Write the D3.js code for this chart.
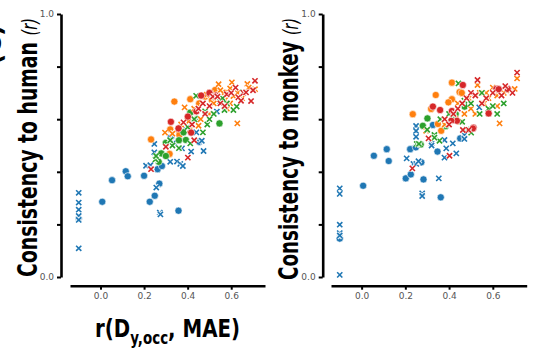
<!DOCTYPE html>
<html>
<head>
<meta charset="utf-8">
<script src="https://cdn.jsdelivr.net/npm/d3@7"></script>
<style>
  body { margin: 0; background: #fff; }
  svg { display: block; }
</style>
</head>
<body>
<div id="canvas"></div>
<script>
// Tick values for both panels.
const X_TICKS = [0.0, 0.2, 0.4, 0.6];
const Y_TICKS = [0.0, 0.2, 0.4, 0.6, 0.8, 1.0];
const Y_LABELED = [0.0, 1.0];

// Left panel: consistency to human, one [x, y] pair per model.
const humanBlueDot = [[-0.1,0.222],[0.008,0.286],[0.053,0.368],[0.116,0.402],[0.125,0.383],[0.200,0.385],[0.226,0.286],[0.249,0.309],[0.262,0.410],[0.270,0.355],[0.282,0.422],[0.358,0.252],[0.323,0.531],[0.454,0.514]];
const humanBlueX = [[-0.1,0.320],[-0.1,0.283],[-0.1,0.256],[-0.1,0.232],[-0.1,0.217],[-0.1,0.109],[0.209,0.423],[0.229,0.425],[0.256,0.340],[0.272,0.245],[0.275,0.238],[0.247,0.506],[0.247,0.474],[0.320,0.438],[0.351,0.439],[0.366,0.430],[0.378,0.422],[0.374,0.489],[0.336,0.511],[0.416,0.477],[0.473,0.479],[0.465,0.518],[0.394,0.559],[0.534,0.629],[0.440,0.550]];
const humanOrangeDot = [[0.232,0.523],[0.317,0.468],[0.320,0.561],[0.339,0.667],[0.359,0.555],[0.362,0.540],[0.412,0.676],[0.453,0.660],[0.480,0.686],[0.511,0.673],[0.526,0.711],[0.570,0.700],[0.400,0.600]];
const humanOrangeX = [[0.296,0.549],[0.386,0.645],[0.503,0.702],[0.488,0.693],[0.542,0.733],[0.603,0.740],[0.674,0.734],[0.709,0.714],[0.595,0.717],[0.572,0.673],[0.595,0.660],[0.628,0.584],[0.404,0.591],[0.610,0.688],[0.680,0.720],[0.550,0.710],[0.520,0.660],[0.460,0.600],[0.430,0.640],[0.500,0.620],[0.580,0.640],[0.370,0.580],[0.410,0.560],[0.630,0.700],[0.650,0.680],[0.330,0.545],[0.450,0.575]];
const humanGreenDot = [[0.267,0.438],[0.279,0.470],[0.300,0.460],[0.300,0.510],[0.381,0.550],[0.392,0.521],[0.412,0.625],[0.546,0.584],[0.440,0.600],[0.360,0.520]];
const humanGreenX = [[0.252,0.447],[0.439,0.689],[0.549,0.667],[0.569,0.635],[0.610,0.635],[0.625,0.648],[0.654,0.702],[0.412,0.508],[0.490,0.580],[0.470,0.550],[0.520,0.620],[0.580,0.660],[0.330,0.500],[0.360,0.490],[0.430,0.600],[0.560,0.680],[0.500,0.600],[0.320,0.520],[0.480,0.630],[0.400,0.570],[0.255,0.460]];
const humanRedDot = [[0.323,0.590],[0.358,0.565],[0.401,0.610],[0.416,0.549],[0.462,0.690],[0.500,0.700],[0.440,0.630],[0.530,0.690]];
const humanRedX = [[0.709,0.746],[0.300,0.495],[0.232,0.410],[0.401,0.454],[0.516,0.686],[0.537,0.686],[0.580,0.695],[0.633,0.683],[0.645,0.670],[0.691,0.669],[0.656,0.700],[0.668,0.702],[0.381,0.588],[0.550,0.660],[0.450,0.640],[0.480,0.620],[0.600,0.700],[0.700,0.710],[0.420,0.580],[0.500,0.650],[0.620,0.720],[0.570,0.650],[0.430,0.520],[0.470,0.660]];

// Right panel: consistency to monkey.
const monkeyBlueDot = [[-0.1,0.146],[0.007,0.347],[0.056,0.461],[0.115,0.486],[0.124,0.441],[0.222,0.486],[0.248,0.493],[0.202,0.375],[0.225,0.390],[0.273,0.436],[0.283,0.371],[0.362,0.303],[0.326,0.578],[0.347,0.477],[0.451,0.527]];
const monkeyBlueX = [[-0.1,0.337],[-0.1,0.316],[-0.1,0.199],[-0.1,0.167],[-0.1,0.158],[-0.1,0.008],[0.277,0.318],[0.277,0.308],[0.353,0.375],[0.206,0.451],[0.237,0.430],[0.250,0.430],[0.249,0.574],[0.249,0.555],[0.249,0.533],[0.320,0.508],[0.320,0.500],[0.379,0.521],[0.387,0.489],[0.417,0.508],[0.379,0.454],[0.433,0.470],[0.470,0.540],[0.470,0.525],[0.538,0.645],[0.260,0.440]];
const monkeyOrangeDot = [[0.234,0.619],[0.339,0.692],[0.413,0.739],[0.448,0.703],[0.458,0.700],[0.413,0.676],[0.397,0.664],[0.318,0.639],[0.349,0.582],[0.364,0.556]];
const monkeyOrangeX = [[0.711,0.755],[0.631,0.584],[0.295,0.556],[0.530,0.730],[0.600,0.720],[0.680,0.710],[0.700,0.715],[0.650,0.700],[0.620,0.690],[0.580,0.680],[0.540,0.700],[0.500,0.640],[0.470,0.620],[0.440,0.660],[0.430,0.600],[0.380,0.580],[0.520,0.620],[0.560,0.660],[0.620,0.650],[0.450,0.590],[0.490,0.680],[0.330,0.530],[0.570,0.700]];
const monkeyGreenDot = [[0.301,0.603],[0.280,0.575],[0.270,0.504],[0.385,0.574],[0.471,0.648],[0.430,0.620]];
const monkeyGreenX = [[0.443,0.736],[0.252,0.506],[0.262,0.506],[0.356,0.518],[0.333,0.540],[0.333,0.530],[0.501,0.549],[0.360,0.600],[0.460,0.590],[0.480,0.560],[0.540,0.620],[0.580,0.640],[0.600,0.650],[0.620,0.620],[0.650,0.660],[0.420,0.610],[0.500,0.660],[0.400,0.620],[0.300,0.560],[0.550,0.700],[0.470,0.670]];
const monkeyRedDot = [[0.326,0.648],[0.359,0.635],[0.463,0.730],[0.413,0.631],[0.436,0.594],[0.410,0.594],[0.512,0.568],[0.581,0.622],[0.616,0.715],[0.668,0.715],[0.627,0.714],[0.509,0.565]];
const monkeyRedX = [[0.711,0.777],[0.530,0.749],[0.657,0.726],[0.232,0.413],[0.402,0.461],[0.306,0.527],[0.489,0.559],[0.463,0.559],[0.380,0.600],[0.400,0.580],[0.440,0.640],[0.480,0.680],[0.500,0.700],[0.520,0.690],[0.550,0.660],[0.600,0.700],[0.640,0.690],[0.690,0.700],[0.420,0.620],[0.460,0.660],[0.570,0.680]];

// Colors (matplotlib tab10).
const BLUE = "#1f77b4", ORANGE = "#ff7f0e", GREEN = "#2ca02c", RED = "#d62728";

const w = 537, h = 350;
const LABEL_FONT = "'Liberation Sans Narrow', 'DejaVu Sans Condensed', 'Liberation Sans', sans-serif";
const TICK_FONT = "'DejaVu Sans', sans-serif";

const svg = d3.select("#canvas")
    .append("svg")
    .attr("width", w)
    .attr("height", h);

// Draws one panel: axes plus all the scatter series.
function drawPanel(opts) {
    const xScale = d3.scaleLinear()
        .domain([-0.14, 0.755])
        .range([opts.x0, opts.x1]);
    const yScale = d3.scaleLinear()
        .domain([0, 1])
        .range([277, 14]);

    const g = svg.append("g");

    // Y axis, offset to the left of the data.
    const yAxis = g.append("g")
        .attr("transform", `translate(${opts.yAxisX},0)`)
        .call(d3.axisLeft(yScale)
            .tickValues(Y_TICKS)
            .tickSize(4)
            .tickSizeOuter(0)
            .tickPadding(3)
            .tickFormat(d => Y_LABELED.includes(d) ? d3.format(".1f")(d) : ""));

    // X axis, offset below the data.
    const xAxis = g.append("g")
        .attr("transform", "translate(0,285.7)")
        .call(d3.axisBottom(xScale)
            .tickValues(X_TICKS)
            .tickSize(4)
            .tickSizeOuter(0)
            .tickPadding(3)
            .tickFormat(d3.format(".1f")));

    [yAxis, xAxis].forEach(ax => {
        ax.select(".domain").attr("stroke", "#000").attr("stroke-width", 2.6);
        ax.selectAll(".tick line").attr("stroke", "#000").attr("stroke-width", 2);
        ax.selectAll(".tick text")
            .attr("fill", "#555")
            .attr("font-family", TICK_FONT)
            .attr("font-size", 9);
    });

    // Scatter series: circles and x markers.
    opts.series.forEach(s => {
        if (s.marker === "o") {
            g.append("g").selectAll("circle")
                .data(s.data)
                .enter()
                .append("circle")
                .attr("cx", d => xScale(d[0]))
                .attr("cy", d => yScale(d[1]))
                .attr("r", 3.6)
                .attr("fill", s.color)
                .attr("stroke", "#fff")
                .attr("stroke-width", 0.6);
        } else {
            const cross = "M-2.6,-2.6L2.6,2.6M-2.6,2.6L2.6,-2.6";
            const marks = g.append("g").selectAll("g")
                .data(s.data)
                .enter()
                .append("g")
                .attr("transform", d => `translate(${xScale(d[0])},${yScale(d[1])})`);
            marks.append("path")
                .attr("d", cross)
                .attr("stroke", "#fff")
                .attr("stroke-opacity", 0.85)
                .attr("stroke-width", 3.8);
            marks.append("path")
                .attr("d", cross)
                .attr("stroke", s.color)
                .attr("stroke-width", 1.6);
        }
    });
}

drawPanel({
    x0: 70, x1: 265, yAxisX: 61,
    series: [
        { color: BLUE, marker: "o", data: humanBlueDot },
        { color: BLUE, marker: "x", data: humanBlueX },
        { color: ORANGE, marker: "o", data: humanOrangeDot },
        { color: GREEN, marker: "o", data: humanGreenDot },
        { color: ORANGE, marker: "x", data: humanOrangeX },
        { color: GREEN, marker: "x", data: humanGreenX },
        { color: RED, marker: "o", data: humanRedDot },
        { color: RED, marker: "x", data: humanRedX }
    ]
});

drawPanel({
    x0: 331, x1: 526.7, yAxisX: 322.7,
    series: [
        { color: BLUE, marker: "o", data: monkeyBlueDot },
        { color: BLUE, marker: "x", data: monkeyBlueX },
        { color: ORANGE, marker: "o", data: monkeyOrangeDot },
        { color: GREEN, marker: "o", data: monkeyGreenDot },
        { color: ORANGE, marker: "x", data: monkeyOrangeX },
        { color: GREEN, marker: "x", data: monkeyGreenX },
        { color: RED, marker: "o", data: monkeyRedDot },
        { color: RED, marker: "x", data: monkeyRedX }
    ]
});

// Fits a text element to a target length by squeezing it horizontally.
function fitText(text, cx, cy, angle, target) {
    const len = text.node().getComputedTextLength();
    text.attr("transform", `translate(${cx},${cy}) rotate(${angle}) scale(${target / len},1)`);
}

// Rotated y labels: bold word part plus italic "(r)".
function yLabel(word, cx, cy, target) {
    const t = svg.append("text")
        .attr("text-anchor", "middle")
        .attr("font-family", LABEL_FONT)
        .attr("font-size", 27)
        .attr("font-weight", "bold")
        .attr("fill", "#000");
    t.append("tspan").text(word + " ");
    t.append("tspan")
        .attr("font-weight", "normal")
        .attr("font-style", "italic")
        .attr("font-size", 21)
        .text("(r)");
    fitText(t, cx, cy, -90, target);
}

yLabel("Consistency to human", 37, 147.5, 259);
yLabel("Consistency to monkey", 298, 149, 262);

// X label with subscript.
const xl = svg.append("text")
    .attr("text-anchor", "middle")
    .attr("font-family", LABEL_FONT)
    .attr("font-size", 25)
    .attr("font-weight", "bold")
    .attr("fill", "#000");
xl.append("tspan").text("r(D");
xl.append("tspan").attr("font-size", 17).attr("dy", 7).text("y,occ");
xl.append("tspan").attr("dy", -7).text(", MAE)");
fitText(xl, 167.5, 337, 0, 145);

// Panel letter, mostly cut off at the left edge as in the source figure.
svg.append("text")
    .attr("text-anchor", "middle")
    .attr("font-family", LABEL_FONT)
    .attr("font-size", 27)
    .attr("font-weight", "bold")
    .attr("transform", "translate(1,45) rotate(-90)")
    .text("(C)");
</script>
</body>
</html>
